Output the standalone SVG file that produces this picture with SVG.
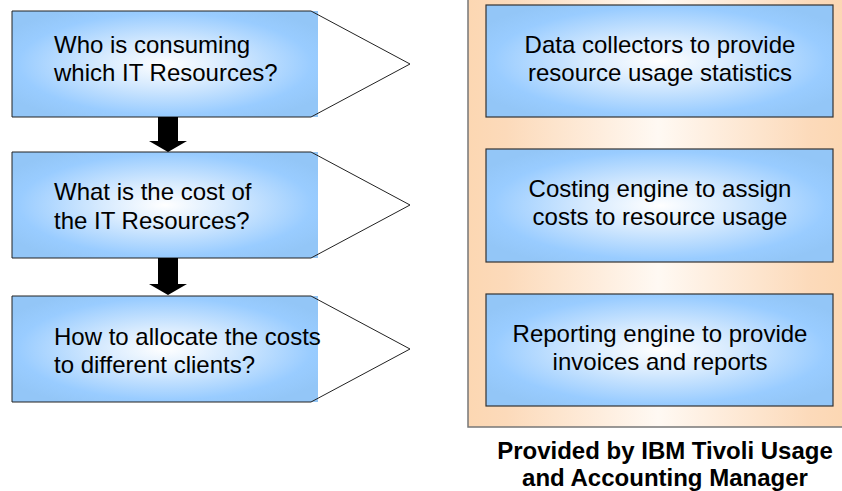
<svg xmlns="http://www.w3.org/2000/svg" width="842" height="491" viewBox="0 0 842 491">
<defs>
<radialGradient id="blue" cx="0.5" cy="0.5" r="0.6" fx="0.5" fy="0.5">
<stop offset="0" stop-color="#FFFFFF"/>
<stop offset="0.35" stop-color="#D6EAFE"/>
<stop offset="0.8" stop-color="#99CCFF"/>
<stop offset="1" stop-color="#93C6F7"/>
</radialGradient>
<linearGradient id="peach" x1="0" y1="0" x2="1" y2="0">
<stop offset="0" stop-color="#FCD7B2"/>
<stop offset="0.1" stop-color="#FCDABA"/>
<stop offset="0.5" stop-color="#FFF9F3"/>
<stop offset="0.9" stop-color="#FCDABA"/>
<stop offset="1" stop-color="#FCD7B2"/>
</linearGradient>
</defs>
<style>
.q{fill:url(#blue);}
.out{fill:none;stroke:#222;stroke-width:1;}
.tri{fill:#fff;stroke:none;}
.rb{fill:url(#blue);stroke:#333;stroke-width:1.2;}
.t{font-family:"Liberation Sans",Arial,sans-serif;font-size:24px;fill:#000;}
.c{text-anchor:middle;}
.b{font-weight:bold;}
.arr{fill:#000;}
</style>
<rect id="container" x="468" y="-5" width="380" height="432" fill="url(#peach)" stroke="#777" stroke-width="1.5"/>
<g id="q1">
<polygon class="tri" points="12,11 311,11 410,64 311,117 12,117"/>
<rect class="q" x="12" y="11" width="306" height="106"/>
<polygon class="out" points="12,11 311,11 410,64 311,117 12,117"/>
<text class="t" x="54" y="53">Who is consuming</text>
<text class="t" x="54" y="81">which IT Resources?</text>
</g>
<g id="q2">
<polygon class="tri" points="12,152 311,152 410,205 311,258 12,258"/>
<rect class="q" x="12" y="152" width="306" height="106"/>
<polygon class="out" points="12,152 311,152 410,205 311,258 12,258"/>
<text class="t" x="54" y="200">What is the cost of</text>
<text class="t" x="54" y="229">the IT Resources?</text>
</g>
<g id="q3">
<polygon class="tri" points="12,296 311,296 410,349 311,402 12,402"/>
<rect class="q" x="12" y="296" width="306" height="106"/>
<polygon class="out" points="12,296 311,296 410,349 311,402 12,402"/>
<text class="t" x="54" y="345">How to allocate the costs</text>
<text class="t" x="54" y="373">to different clients?</text>
</g>
<g id="connectors">
<polygon class="arr" points="158,117 178,117 178,141 187,141 168,152 149,141 158,141"/>
<polygon class="arr" points="158,258 178,258 178,284 187,284 168,295 149,284 158,284"/>
</g>
<g id="r1">
<rect class="rb" x="486" y="5" width="347" height="112"/>
<text class="t c" x="660" y="53">Data collectors to provide</text>
<text class="t c" x="660" y="81">resource usage statistics</text>
</g>
<g id="r2">
<rect class="rb" x="486" y="149" width="347" height="113"/>
<text class="t c" x="660" y="197">Costing engine to assign</text>
<text class="t c" x="660" y="225">costs to resource usage</text>
</g>
<g id="r3">
<rect class="rb" x="486" y="294" width="347" height="112"/>
<text class="t c" x="660" y="342">Reporting engine to provide</text>
<text class="t c" x="660" y="370">invoices and reports</text>
</g>
<g id="caption">
<text class="t c b" x="665" y="459">Provided by IBM Tivoli Usage</text>
<text class="t c b" x="665" y="486">and Accounting Manager</text>
</g>
</svg>
